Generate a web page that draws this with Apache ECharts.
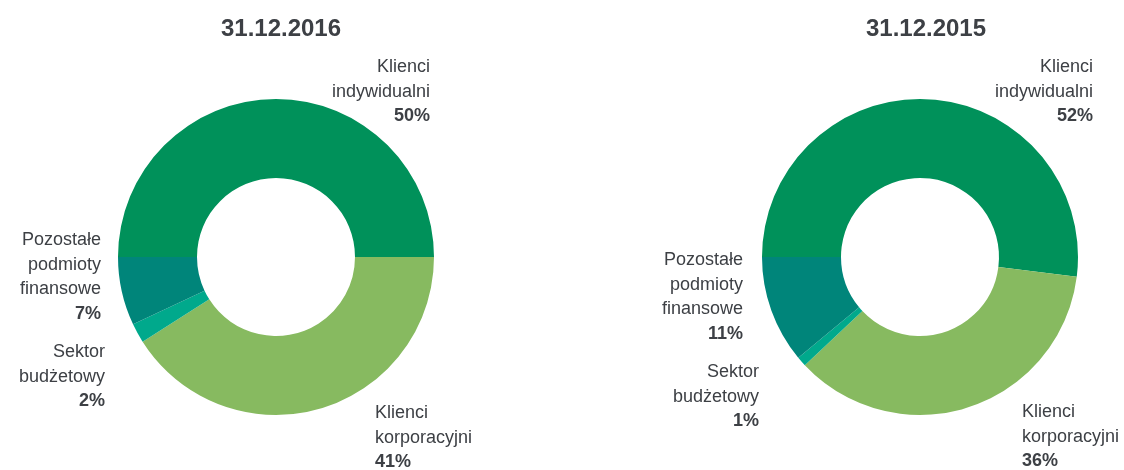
<!DOCTYPE html>
<html>
<head>
<meta charset="utf-8">
<script src="https://cdn.jsdelivr.net/npm/echarts@6/dist/echarts.min.js"></script>
<style>
  html, body { margin: 0; padding: 0; background: #fff; }
  #chart { width: 1124px; height: 470px; }
</style>
</head>
<body>
<div id="chart"></div>
<script>
// dane
const titles = ['31.12.2016', '31.12.2015']
const categories = ['Klienci\nindywidualni', 'Klienci\nkorporacyjni', 'Sektor\nbudżetowy', 'Pozostałe\npodmioty\nfinansowe']
const values2016 = [50, 41, 2, 7]
const values2015 = [52, 36, 1, 11]
const colors = ['#00915a', '#87ba60', '#00a98c', '#00857a']

// pozycje etykiet [x, y, align] dla każdego wykresu
const labelPos = [
  [[430, 55, 'right'], [375, 401, 'left'], [105, 340, 'right'], [101, 228, 'right']],
  [[1093, 55, 'right'], [1022, 400, 'left'], [759, 360, 'right'], [743, 248, 'right']]
]

const textColor = '#3d4045'

function makeSeries(values, center, idx) {
  return {
    type: 'pie',
    center: center,
    radius: [79, 158],
    startAngle: 180,
    clockwise: true,
    silent: true,
    data: values.map((v, i) => ({
      name: categories[i],
      value: v,
      itemStyle: { color: colors[i] }
    })),
    label: {
      show: true,
      position: 'outside',
      overflow: 'none',
      formatter: p => p.name.split('\n').map(l => '{n|' + l + '}').join('\n') + '\n{p|' + p.value + '%}',
      rich: {
        n: { fontSize: 18, fontFamily: 'Liberation Sans', color: textColor, lineHeight: 24.5 },
        p: { fontSize: 18, fontFamily: 'Liberation Sans', fontWeight: 'bold', color: textColor, lineHeight: 24.5 }
      }
    },
    labelLine: { show: false },
    labelLayout: params => {
      const pos = labelPos[idx][params.dataIndex]
      return { x: pos[0], y: pos[1], align: pos[2], verticalAlign: 'top', width: 200 }
    }
  }
}

let myChart = echarts.init(document.getElementById('chart'))
let option = {
  animation: false,
  title: [
    {
      text: titles[0],
      left: 276,
      top: 12,
      textAlign: 'center',
      textStyle: { fontSize: 24, fontWeight: 'bold', fontFamily: 'Liberation Sans', color: textColor }
    },
    {
      text: titles[1],
      left: 921,
      top: 12,
      textAlign: 'center',
      textStyle: { fontSize: 24, fontWeight: 'bold', fontFamily: 'Liberation Sans', color: textColor }
    }
  ],
  series: [
    makeSeries(values2016, [276, 257], 0),
    makeSeries(values2015, [920, 257], 1)
  ]
}
myChart.setOption(option)
</script>
</body>
</html>
